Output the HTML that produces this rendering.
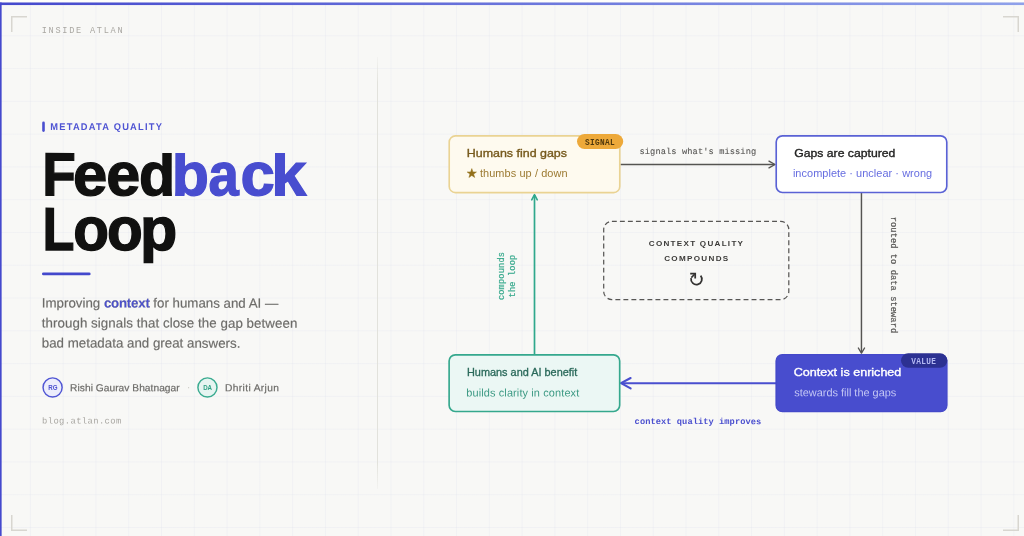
<!DOCTYPE html>
<html>
<head>
<meta charset="utf-8">
<style>
*{margin:0;padding:0;box-sizing:border-box;}
html,body{width:1024px;height:536px;overflow:hidden;background:#fefefb;}
body{font-family:"Liberation Sans",sans-serif;position:relative;}
#card{position:absolute;left:0;top:2px;width:1024px;height:534px;background-color:#f8f8f6;
  background-image:
    linear-gradient(to right, rgba(228,229,240,0.34) 1px, transparent 1px),
    linear-gradient(to bottom, rgba(228,229,240,0.34) 1px, transparent 1px);
  background-size:32.79px 32.79px;
  background-position:-2.9px 0.5px;
}
.tb{position:absolute;left:0;width:1024px;height:1px;background:linear-gradient(to right,#4549cd 0%,#8fa1ea 100%);}
.lb{position:absolute;top:2px;width:1px;height:534px;background:#4549cd;}
.abs{position:absolute;white-space:nowrap;}
.hl{position:absolute;left:0;top:0;white-space:nowrap;font-size:59.2px;font-weight:bold;line-height:80px;-webkit-text-stroke-width:1.3px;transform-origin:0 0;}
.mono{font-family:"Liberation Mono",monospace;}
</style>
</head>
<body>
<div id="card"></div>
<div class="lb" style="left:0;top:3px;height:533px;"></div>
<div class="lb" style="left:1px;top:3px;height:533px;opacity:0.64;"></div>
<div class="lb" style="left:0;top:2px;height:1px;opacity:0.5;"></div>
<div class="lb" style="left:1px;top:2px;height:1px;opacity:0.35;"></div>
<div class="tb" style="top:2px;opacity:0.5;"></div>
<div class="tb" style="top:3px;height:2px;"></div>
<div class="tb" style="top:5px;opacity:0.06;"></div>

<div id="wrap" style="position:absolute;left:0;top:0;width:1024px;height:536px;will-change:transform;">

<!-- header label -->
<div class="abs mono" id="inside" style="left:41.7px;top:24.7px;font-size:8.6px;letter-spacing:1.73px;color:#a9a7a2;line-height:12px;">INSIDE ATLAN</div>

<!-- divider -->
<div class="abs" style="left:377px;top:57px;width:1px;height:432px;background:linear-gradient(to bottom,rgba(226,226,220,0.2),rgba(226,226,220,1) 6%,rgba(226,226,220,1) 94%,rgba(226,226,220,0.2));"></div>

<!-- LEFT PANEL -->
<div class="abs" id="tag" style="left:50px;top:121px;font-size:9.3px;font-weight:bold;letter-spacing:1.23px;color:#4f54d3;line-height:12px;transform:translate(0.3px,0.0px) translateY(0px) skewY(0.03deg) scaleY(1.05);transform-origin:0 83%;">METADATA QUALITY</div>

<!--HEAD-->
<div class="hl" style="color:#111110;-webkit-text-stroke-color:#111110;transform:translate(42.44px,133.86px) rotate(0.08deg) scale(0.9260,1.0243);">F</div>
<div class="hl" style="color:#111110;-webkit-text-stroke-color:#111110;transform:translate(73.15px,133.86px) rotate(0.08deg) scale(1.0399,1.0243);">e</div>
<div class="hl" style="color:#111110;-webkit-text-stroke-color:#111110;transform:translate(106.27px,133.86px) rotate(0.08deg) scale(1.0298,1.0243);">e</div>
<div class="hl" style="color:#111110;-webkit-text-stroke-color:#111110;transform:translate(139.02px,133.86px) rotate(0.08deg) scale(1.0002,1.0243);clip-path:inset(18.59px -6px -6px -6px);">d</div>
<div class="hl" style="color:#484dcf;-webkit-text-stroke-color:#484dcf;transform:translate(171.83px,133.86px) rotate(0.08deg) scale(1.0271,1.0243);clip-path:inset(18.59px -6px -6px -6px);">b</div>
<div class="hl" style="color:#484dcf;-webkit-text-stroke-color:#484dcf;transform:translate(208.49px,133.86px) rotate(0.08deg) scale(0.9199,1.0243);">a</div>
<div class="hl" style="color:#484dcf;-webkit-text-stroke-color:#484dcf;transform:translate(240.65px,133.86px) rotate(0.08deg) scale(1.0404,1.0243);">c</div>
<div class="hl" style="color:#484dcf;-webkit-text-stroke-color:#484dcf;transform:translate(271.29px,133.86px) rotate(0.08deg) scale(1.0651,1.0243);clip-path:inset(18.59px -6px -6px -6px);">k</div>
<div class="hl" style="color:#111110;-webkit-text-stroke-color:#111110;transform:translate(42.58px,188.46px) rotate(0.08deg) scale(0.8833,1.0243);">L</div>
<div class="hl" style="color:#111110;-webkit-text-stroke-color:#111110;transform:translate(73.24px,188.46px) rotate(0.08deg) scale(0.9885,1.0243);">o</div>
<div class="hl" style="color:#111110;-webkit-text-stroke-color:#111110;transform:translate(107.14px,188.46px) rotate(0.08deg) scale(0.9885,1.0243);">o</div>
<div class="hl" style="color:#111110;-webkit-text-stroke-color:#111110;transform:translate(140.21px,188.46px) rotate(0.08deg) scale(1.0302,1.0243);">p</div>
<!--/HEAD-->


<div class="abs" id="p1" style="left:42px;top:293px;font-size:13.3px;line-height:20px;color:#6d6c69;letter-spacing:0px;transform:translate(-0.2px,0.6px) skewY(0.03deg);transform-origin:50% 50%;-webkit-text-stroke:0.18px #6d6c69;">Improving <b style="color:#4a4fd0;letter-spacing:-0.22px;">context</b> for humans and AI —</div>
<div class="abs" id="p2" style="left:42px;top:313px;font-size:13.3px;line-height:20px;color:#6d6c69;letter-spacing:0.065px;transform:translate(-0.2px,0.6px) skewY(0.03deg);transform-origin:50% 50%;-webkit-text-stroke:0.18px #6d6c69;">through signals that close the gap between</div>
<div class="abs" id="p3" style="left:42px;top:333px;font-size:13.3px;line-height:20px;color:#6d6c69;letter-spacing:0.015px;transform:translate(-0.2px,0.6px) skewY(0.03deg);transform-origin:50% 50%;-webkit-text-stroke:0.18px #6d6c69;">bad metadata and great answers.</div>

<!-- authors -->
<div class="abs" id="n1" style="left:70px;top:381px;font-size:10.2px;line-height:14px;color:#6c6b68;letter-spacing:0.04px;-webkit-text-stroke:0.2px #6c6b68;transform:translate(0.1px,0.0px) translateY(0.3px) skewY(0.03deg);">Rishi Gaurav Bhatnagar</div>
<div class="abs" style="left:186.8px;top:380px;font-size:11px;line-height:14px;color:#d0cfca;">·</div>
<div class="abs" id="n2" style="left:225px;top:381px;font-size:10.2px;line-height:14px;color:#6c6b68;letter-spacing:0.36px;-webkit-text-stroke:0.2px #6c6b68;transform:translate(0.1px,0.0px) translateY(0.3px) skewY(0.03deg);">Dhriti Arjun</div>

<div class="abs mono" id="blog" style="left:41px;top:415px;font-size:8.8px;letter-spacing:0.41px;color:#a8a6a1;line-height:12px;transform:translate(1.0px,0.6px) skewY(0.03deg);">blog.atlan.com</div>

<!-- DIAGRAM -->
<svg class="abs" style="left:0;top:0;" width="1024" height="536" viewBox="0 0 1024 536" fill="none">
  <!-- corners -->
  <g stroke="#d8d6d0" stroke-width="1.5" fill="none">
    <path d="M11.75 32 V16.75 H27"/>
    <path d="M1003 16.75 H1018.25 V32"/>
    <path d="M11.75 515 V530.25 H27"/>
    <path d="M1003 530.25 H1018.25 V515"/>
  </g>
  <!-- accent bars -->
  <rect x="42.2" y="121.6" width="2.6" height="10.3" rx="1.3" ry="1.3" fill="#4a4fd0"/>
  <rect x="42.0" y="272.4" width="48.6" height="2.95" rx="1.47" ry="1.47" fill="#4348cc"/>
  <!-- avatars -->
  <circle cx="52.6" cy="387.4" r="9.55" fill="#ecedfc" stroke="#5056d4" stroke-width="1.45"/>
  <circle cx="207.45" cy="387.4" r="9.55" fill="#e6f5f1" stroke="#3aab90" stroke-width="1.45"/>
  <!-- arrow 1: box1 -> box2 -->
  <path d="M620.5 164.5 H774.5" stroke="#555452" stroke-width="1.45"/>
  <path d="M769 161.2 L775 164.5 L769 167.8" stroke="#555452" stroke-width="1.4" stroke-linecap="round" stroke-linejoin="round"/>
  <!-- arrow 2: box2 -> box3 -->
  <path d="M861.45 193 V352.4" stroke="#555452" stroke-width="1.45"/>
  <path d="M858.35 348 L861.45 353.1 L864.55 348" stroke="#555452" stroke-width="1.4" stroke-linecap="round" stroke-linejoin="round"/>
  <!-- arrow 3: box3 -> box4 -->
  <path d="M776 383.2 H622" stroke="#4a4fcf" stroke-width="2.1"/>
  <path d="M630.6 378 L621 383.2 L630.6 388.4" stroke="#4a4fcf" stroke-width="2.1" stroke-linecap="round" stroke-linejoin="round"/>
  <!-- arrow 4: box4 -> box1 -->
  <path d="M534.5 354.5 V195" stroke="#2fa88c" stroke-width="1.7"/>
  <path d="M531.75 199.9 L534.5 194.6 L537.25 199.9" stroke="#2fa88c" stroke-width="1.6" stroke-linecap="round" stroke-linejoin="round"/>
  <!-- boxes -->
  <rect x="449.22" y="135.92" width="170.56" height="56.66" rx="6.2" ry="6.2" fill="#fefaef" stroke="#ead393" stroke-width="1.64"/>
  <rect x="776.22" y="135.82" width="170.56" height="56.66" rx="6.2" ry="6.2" fill="#ffffff" stroke="#5a62d5" stroke-width="1.64"/>
  <rect x="776.0" y="354.6" width="171.0" height="57.1" rx="6.4" ry="6.4" fill="#484dce" stroke="#4449c9" stroke-width="1.2"/>
  <rect x="449.12" y="354.82" width="170.56" height="56.66" rx="6.2" ry="6.2" fill="#ebf7f4" stroke="#35a88d" stroke-width="1.64"/>
  <rect x="577.0" y="133.9" width="46.2" height="15.2" rx="7.6" ry="7.6" fill="#eda93a"/>
  <rect x="901.0" y="353.3" width="46.3" height="14.5" rx="7.25" ry="7.25" fill="#2c3192"/>
  <polygon points="471.80,168.60 472.95,171.91 476.46,171.99 473.66,174.11 474.68,177.46 471.80,175.46 468.92,177.46 469.94,174.11 467.14,171.99 470.65,171.91" fill="#93701b" stroke="#93701b" stroke-width="0.5" stroke-linejoin="round"/>
  <!-- dashed box -->
  <rect x="603.7" y="221.3" width="185.1" height="78.3" rx="8.19" ry="8.19" stroke="#575654" stroke-width="1.23" stroke-dasharray="4.9 3.11"/>
  <!-- refresh icon -->
  <g stroke="#333231" stroke-width="1.75" fill="none" stroke-linecap="butt" stroke-linejoin="miter">
    <path d="M700.6 275.6 A5.45 5.45 0 1 1 691.1 278.2"/>
    <path d="M690.2 273.5 H695.2 V278.4"/>
    <path d="M691.3 277.6 L694.6 274.2" stroke-width="1.6"/>
  </g>
</svg>

<!-- box 1 -->
<div class="abs" id="b1t" style="left:467px;top:146px;font-size:11.5px;font-weight:normal;line-height:15px;color:#76591c;letter-spacing:0px;-webkit-text-stroke:0.35px #76591c;transform:translate(-0.2px,0.4px) scaleX(1.0806);transform-origin:0 50%;">Humans find gaps</div>
<div class="abs" id="b1s" style="left:479.9px;top:166px;font-size:10.95px;line-height:14px;color:#9c7a32;letter-spacing:0.09px;">thumbs up / down</div>
<div class="abs mono" id="sig" style="left:576px;top:134px;width:46px;height:15.6px;line-height:16px;text-align:center;font-size:7.8px;font-weight:bold;letter-spacing:0.3px;color:#4e370c;text-indent:0.3px;transform:translate(0.9px,0.9px) scaleY(1.2);">SIGNAL</div>

<!-- arrow label 1 -->
<div class="abs mono" id="l1" style="left:639px;top:145px;font-size:8.7px;line-height:12px;color:#575654;-webkit-text-stroke:0.1px #575654;transform:translate(0.5px,1.0px) skewY(0.03deg);letter-spacing:0.095px;">signals what's missing</div>

<!-- box 2 -->
<div class="abs" id="b2t" style="left:794px;top:146px;font-size:11.5px;font-weight:normal;line-height:15px;color:#222221;letter-spacing:0px;-webkit-text-stroke:0.35px #222221;transform:translate(0.2px,0.4px) scaleX(1.062);transform-origin:0 50%;">Gaps are captured</div>
<div class="abs" id="b2s" style="left:792.9px;top:166px;font-size:10.95px;line-height:14px;color:#666de0;letter-spacing:0.045px;">incomplete · unclear · wrong</div>

<!-- vertical label right -->
<div class="abs mono" id="l2" style="left:892.95px;top:275px;font-size:8.7px;line-height:12px;color:#575654;transform:translate(-50%,-50%) rotate(90deg);-webkit-text-stroke:0.2px #575654;letter-spacing:0.08px;">routed to data steward</div>

<!-- vertical label left -->
<div class="abs mono" id="l4" style="left:508.3px;top:275.5px;font-size:8.7px;line-height:11.1px;color:#38a98d;text-align:center;transform:translate(-50%,-50%) rotate(-90deg);-webkit-text-stroke:0.2px #38a98d;letter-spacing:0.14px;">compounds<br>the loop</div>

<!-- center text -->
<div class="abs" id="c1" style="left:696px;top:238px;font-size:8.1px;font-weight:bold;letter-spacing:1.27px;line-height:11px;color:#3b3a38;transform:translate(-0.1px,0.0px) translateX(-50%);text-indent:1.27px;">CONTEXT QUALITY</div>
<div class="abs" id="c2" style="left:696px;top:252px;font-size:8.1px;font-weight:bold;letter-spacing:1.31px;line-height:11px;color:#3b3a38;transform:translate(0.2px,0.9px) translateX(-50%);text-indent:1.31px;">COMPOUNDS</div>

<!-- box 3 -->
<div class="abs" id="b3t" style="left:794px;top:365px;font-size:11.5px;font-weight:normal;line-height:15px;color:#ffffff;letter-spacing:0px;-webkit-text-stroke:0.35px #ffffff;transform:translate(-0.2px,0.2px) scaleX(1.0925);transform-origin:0 50%;">Context is enriched</div>
<div class="abs" id="b3s" style="left:794px;top:385px;font-size:10.95px;line-height:14px;color:#c3c6f4;letter-spacing:0px;transform:translate(0.2px,0.0px) translateY(0.35px) skewY(0.03deg);">stewards fill the gaps</div>
<div class="abs mono" id="val" style="left:900px;top:354px;width:46.4px;height:14.6px;line-height:15px;text-align:center;font-size:7.8px;font-weight:bold;letter-spacing:0.3px;color:#b4b9f3;text-indent:0.3px;transform:translate(0.4px,0.9px) scaleY(1.2);">VALUE</div>

<!-- arrow label 3 -->
<div class="abs mono" id="l3" style="left:634px;top:416px;font-size:8.7px;font-weight:bold;line-height:12px;color:#4a4fcf;transform:translate(0.6px,0.1px) skewY(0.03deg);letter-spacing:0.065px;">context quality improves</div>

<!-- box 4 -->
<div class="abs" id="b4t" style="left:467px;top:365px;font-size:10.3px;font-weight:normal;line-height:15px;color:#2b6a5b;letter-spacing:0px;-webkit-text-stroke:0.3px #2b6a5b;transform:translate(0.0px,0.3px) scaleX(1.058);transform-origin:0 50%;">Humans and AI benefit</div>
<div class="abs" id="b4s" style="left:466px;top:385px;font-size:10.95px;line-height:14px;color:#3d9a84;letter-spacing:0.12px;transform:translate(0.3px,0.45px) skewY(0.03deg);">builds clarity in context</div>

<div class="abs" id="rg" style="left:42px;top:376px;width:21px;height:21px;line-height:21px;text-align:center;font-size:7.2px;font-weight:bold;color:#4a4fd0;transform:translate(0.3px,0.7px) scaleX(0.86);">RG</div>
<div class="abs" id="da" style="left:197px;top:376px;width:21px;height:21px;line-height:21px;text-align:center;font-size:7.2px;font-weight:bold;color:#2fa184;transform:translate(0.1px,0.7px) scaleX(0.86);">DA</div>
</div>
</body>
</html>
